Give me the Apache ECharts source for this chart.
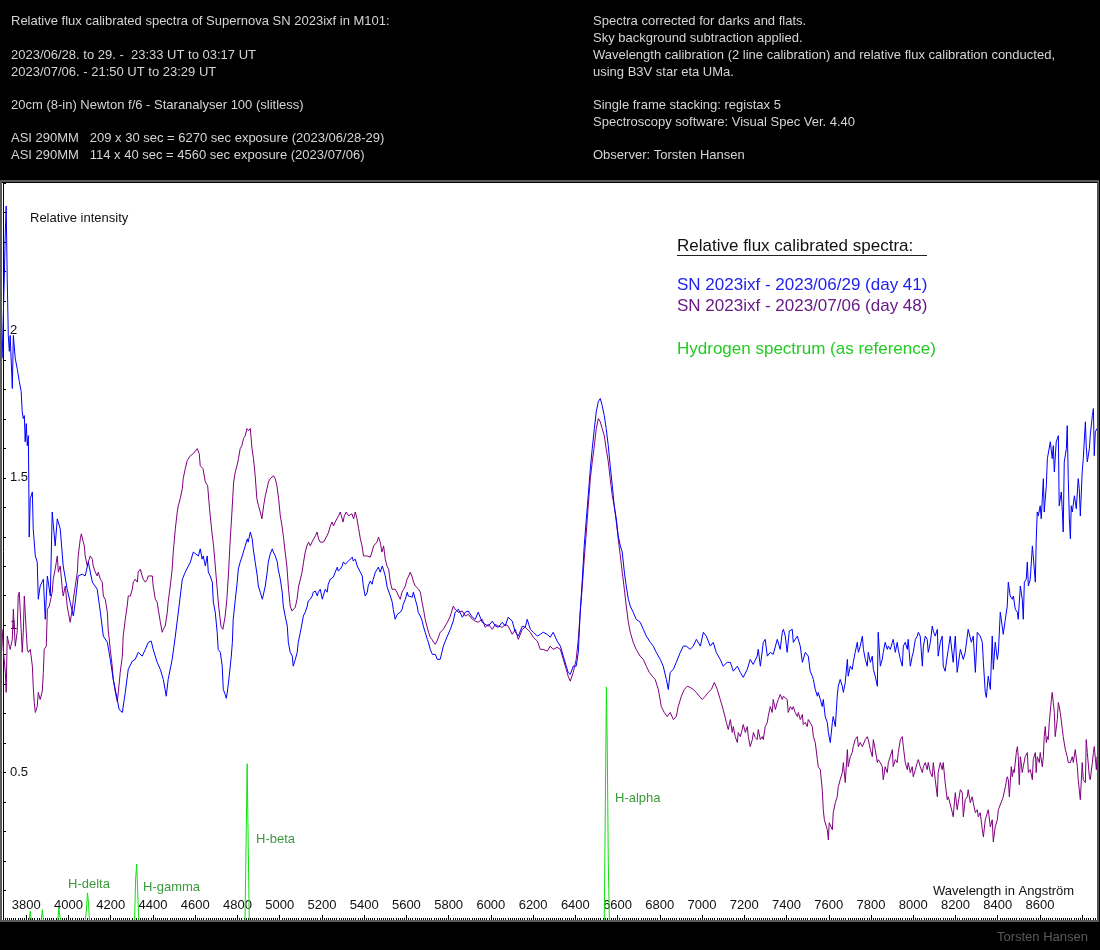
<!DOCTYPE html>
<html>
<head>
<meta charset="utf-8">
<title>SN 2023ixf relative flux calibrated spectra</title>
<script src="https://cdn.jsdelivr.net/npm/echarts@6/dist/echarts.min.js"></script>
<style>
html, body { margin: 0; padding: 0; background: #000; }
#chart { width: 1100px; height: 950px; }
</style>
</head>
<body>
<div id="chart"></div>
<script>
// wavelength (Angstrom), relative intensity
const day41 = [
[3686,1.905],[3691,2.041],[3696,2.177],[3701,2.337],[3705,2.422],[3710,2.177],[3715,1.983],[3720,1.929],[3724,1.983],[3734,1.803],[3739,1.983],[3748,1.905],[3757,1.871],[3767,1.827],[3776,1.793],[3781,1.724],[3786,1.701],[3791,1.711],[3795,1.622],[3800,1.684],[3805,1.609],[3810,1.643],[3812,1.497],[3814,1.299],[3819,1.429],[3829,1.452],[3833,1.327],[3843,1.235],[3852,1.214],[3857,1.088],[3866,1.133],[3881,1.156],[3890,1.020],[3900,1.167],[3914,1.099],[3923,1.384],[3937,1.269],[3947,1.361],[3961,1.327],[3975,1.201],[3994,1.122],[4008,1.078],[4023,1.031],[4032,1.078],[4046,1.167],[4065,1.173],[4079,1.167],[4094,1.214],[4113,1.146],[4136,1.122],[4151,1.044],[4165,0.963],[4184,0.942],[4198,0.884],[4212,0.816],[4231,0.748],[4240,0.714],[4255,0.704],[4269,0.772],[4283,0.850],[4302,0.878],[4316,0.884],[4330,0.908],[4349,0.895],[4364,0.918],[4378,0.942],[4392,0.946],[4401,0.918],[4420,0.874],[4435,0.850],[4449,0.816],[4463,0.759],[4472,0.816],[4491,0.884],[4506,0.963],[4520,1.044],[4539,1.156],[4553,1.180],[4577,1.214],[4591,1.248],[4615,1.235],
[4624,1.259],[4633,1.224],[4638,1.235],[4648,1.201],[4657,1.235],[4662,1.180],[4671,1.167],[4681,1.146],[4686,1.078],[4695,1.044],[4704,0.976],[4709,0.918],[4719,0.908],[4728,0.861],[4733,0.782],[4742,0.765],[4747,0.752],[4752,0.772],[4761,0.827],[4771,0.895],[4776,0.942],[4780,1.020],[4790,1.088],[4799,1.146],[4804,1.190],[4813,1.214],[4823,1.235],[4828,1.248],[4837,1.269],[4847,1.293],[4851,1.282],[4861,1.316],[4870,1.293],[4875,1.259],[4884,1.214],[4894,1.167],[4899,1.133],[4908,1.112],[4918,1.088],[4922,1.088],[4932,1.133],[4941,1.180],[4946,1.214],[4955,1.241],[4965,1.259],[4970,1.248],[4979,1.235],[4989,1.214],[4993,1.190],[5003,1.156],[5012,1.112],[5017,1.065],[5026,1.031],[5036,0.997],[5041,0.942],[5050,0.908],[5060,0.895],[5064,0.861],[5074,0.884],[5083,0.908],[5088,0.942],[5098,0.976],[5107,1.010],[5112,1.031],[5121,1.044],[5131,1.065],[5135,1.082],[5145,1.088],[5154,1.099],[5159,1.112],[5169,1.116],[5178,1.099],[5183,1.112],[5192,1.122],[5202,1.088],[5206,1.099],[5216,1.122],[5225,1.112],[5230,1.139],[5240,1.156],[5249,1.150],[5254,1.163],[5263,1.180],[5273,1.197],[5277,1.184],[5287,1.190],[5296,1.201],[5301,1.214],[5311,1.207],[5320,1.214],[5325,1.218],[5334,1.224],[5344,1.231],[5348,1.218],[5358,1.224],[5367,1.201],[5372,1.201],[5382,1.180],[5391,1.167],[5396,1.133],[5405,1.099],[5415,1.112],[5419,1.133],[5429,1.150],[5438,1.139],[5443,1.156],[5453,1.180],[5462,1.190],[5467,1.197],[5476,1.180],[5486,1.201],[5491,1.190],[5500,1.167],[5509,1.129],[5514,1.129],[5524,1.099],[5533,1.078],[5538,1.054],[5547,1.020],[5557,1.037],[5561,1.037],[5571,1.044],[5580,1.054],[5585,1.071],[5595,1.088],[5604,1.112],[5609,1.099],[5618,1.105],[5628,1.095],[5633,1.112],[5642,1.088],[5651,1.065],[5656,1.044],[5666,1.031],[5675,1.014],[5680,0.997],[5689,0.976],[5699,0.952],[5704,0.942],[5713,0.918],[5723,0.901],[5727,0.895],[5737,0.901],[5746,0.884],
[5760,0.884],[5775,0.929],[5794,0.963],[5808,0.986],[5822,1.014],[5831,1.044],[5846,1.054],[5865,1.027],[5879,1.044],[5893,1.048],[5912,1.027],[5926,1.020],[5940,1.044],[5959,1.010],[5973,1.003],[5988,0.997],[6007,1.014],[6021,0.997],[6035,0.993],[6054,1.010],[6068,0.997],[6082,1.027],[6101,1.014],[6116,0.976],[6130,0.963],[6149,0.997],[6163,0.993],[6172,1.020],[6187,0.986],[6201,0.976],[6220,0.963],[6234,0.969],[6248,0.976],[6267,0.969],[6281,0.959],[6295,0.976],[6314,0.946],
[6329,0.929],[6343,0.895],[6357,0.861],[6366,0.840],[6376,0.833],[6390,0.861],[6404,0.861],[6414,0.908],[6423,1.044],[6433,1.156],[6442,1.269],[6452,1.361],[6461,1.439],[6471,1.531],[6480,1.599],[6490,1.667],[6499,1.724],[6509,1.759],[6518,1.769],[6527,1.745],[6537,1.711],[6546,1.667],[6556,1.609],[6565,1.541],[6575,1.473],[6584,1.405],[6594,1.361],[6603,1.303],[6613,1.269],[6622,1.248],[6632,1.180],[6641,1.133],[6651,1.088],[6660,1.065],[6674,1.044],[6688,1.020],[6707,1.010],[6722,0.986],[6736,0.963],[6755,0.942],[6769,0.929],[6783,0.908],[6802,0.884],[6816,0.861],[6831,0.816],[6840,0.782],[6849,0.840],[6864,0.850],[6878,0.874],[6897,0.908],[6911,0.929],[6925,0.929],[6944,0.918],[6958,0.929],[6973,0.952],[6992,0.929],[7006,0.976],[7020,0.963],[7039,0.929],[7053,0.942],[7067,0.908],[7086,0.884],[7100,0.861],[7119,0.874],
[7134,0.874],[7148,0.844],[7167,0.861],[7181,0.840],[7195,0.823],[7214,0.850],[7228,0.884],[7242,0.867],[7261,0.895],[7266,0.918],[7276,0.861],[7290,0.942],[7299,0.952],[7309,0.895],[7323,0.908],[7337,0.901],[7356,0.952],[7370,0.918],[7380,0.976],[7385,0.986],[7394,0.963],[7403,0.908],[7413,0.980],[7427,0.986],[7432,0.942],[7451,0.963],[7456,0.969],[7465,0.929],[7475,0.874],[7489,0.908],[7503,0.895],[7512,0.844],[7522,0.827],[7527,0.816],[7536,0.782],[7546,0.759],[7550,0.772],[7560,0.748],[7569,0.724],[7574,0.748],[7583,0.690],[7593,0.670],[7598,0.636],[7607,0.602],[7617,0.670],[7621,0.690],[7631,0.656],[7640,0.759],[7645,0.793],[7654,0.816],[7664,0.793],[7669,0.772],[7678,0.806],[7688,0.884],[7692,0.827],[7702,0.861],[7711,0.850],[7716,0.874],[7725,0.908],[7735,0.942],[7740,0.908],[7749,0.929],[7759,0.963],[7764,0.918],[7773,0.884],[7782,0.861],[7787,0.908],[7797,0.874],[7806,0.895],[7811,0.850],[7820,0.827],[7830,0.793],[7834,0.976],[7844,0.861],[7853,0.884],[7858,0.908],[7867,0.942],[7877,0.918],[7882,0.929],[7891,0.918],[7901,0.942],[7905,0.952],[7915,0.908],[7924,0.942],[7929,0.918],[7939,0.884],[7948,0.861],[7953,0.929],[7962,0.942],[7972,0.918],[7976,0.952],[7986,0.861],[7995,0.895],[8000,0.908],[8010,0.952],[8019,0.963],[8024,0.976],[8033,0.963],[8043,0.861],[8048,0.929],[8057,0.963],[8066,0.952],[8071,0.908],[8081,0.942],[8090,0.997],[8095,0.980],[8104,0.963],[8114,0.986],[8118,0.895],[8128,0.942],[8137,0.963],[8142,0.861],[8151,0.844],[8161,0.895],[8166,0.918],
[8175,0.963],[8189,0.874],[8199,0.963],[8208,0.840],[8223,0.918],[8237,0.884],[8246,0.908],[8260,0.986],[8275,0.942],[8284,0.963],[8294,0.840],[8303,0.976],[8317,0.963],[8327,0.942],[8332,0.874],[8341,0.772],[8346,0.755],[8355,0.827],[8365,0.782],[8374,0.963],[8379,0.850],[8388,0.942],[8398,0.884],[8403,0.908],[8412,1.044],[8421,0.997],[8426,0.969],[8436,1.020],[8445,1.065],[8450,1.146],[8459,1.099],[8469,1.088],[8474,1.099],[8483,1.054],[8493,1.044],[8497,1.020],[8507,1.133],[8516,1.088],[8521,1.020],[8526,1.146],[8535,1.156],[8540,1.214],[8545,1.133],[8554,1.156],[8564,1.269],[8568,1.235],[8578,1.146],[8582,1.282],[8587,1.384],[8592,1.371],[8601,1.405],[8606,1.361],[8611,1.429],[8616,1.497],[8620,1.384],[8630,1.473],[8635,1.565],[8639,1.565],[8649,1.622],[8658,1.565],[8663,1.609],[8668,1.520],[8677,1.622],[8687,1.643],[8691,1.405],[8701,1.452],[8706,1.384],[8710,1.316],[8715,1.554],[8725,1.599],[8729,1.677],[8734,1.497],[8739,1.361],[8744,1.293],[8748,1.405],[8753,1.384],[8763,1.439],[8772,1.395],[8781,1.497],[8786,1.463],[8791,1.371],[8800,1.520],[8805,1.565],[8815,1.690],[8819,1.609],[8824,1.554],[8834,1.599],[8838,1.643],[8848,1.711],[8853,1.735],[8857,1.575],[8862,1.656],[8870,1.667]
];

const day48 = [
[3686,0.986],[3691,0.918],[3701,0.840],[3705,0.772],[3710,0.963],[3720,0.929],[3724,0.918],[3734,0.952],[3739,1.054],[3748,0.929],[3757,0.976],[3762,1.099],[3767,1.112],[3776,0.986],[3781,0.908],[3786,0.976],[3791,1.099],[3795,1.044],[3805,0.918],[3810,0.908],[3819,0.918],[3829,0.861],[3833,0.793],[3838,0.738],[3843,0.704],[3852,0.724],[3857,0.772],[3866,0.748],[3876,0.776],[3881,0.840],[3885,0.918],[3895,0.929],[3900,1.054],[3909,1.065],[3923,1.112],[3928,1.156],[3937,1.190],[3947,1.235],[3952,1.180],[3961,1.201],[3971,1.122],[3975,1.099],[3985,1.133],[3994,1.065],[3999,1.044],[4008,1.010],[4018,1.054],[4023,1.088],[4032,1.133],[4042,1.180],[4046,1.235],[4056,1.293],[4061,1.310],[4070,1.282],[4075,1.269],[4079,1.235],[4089,1.201],[4094,1.214],[4103,1.235],[4113,1.224],[4117,1.201],[4127,1.180],[4136,1.167],[4141,1.180],[4151,1.156],[4160,1.146],[4165,1.099],[4174,1.088],[4184,1.044],[4188,0.986],[4198,0.918],[4207,0.861],[4212,0.816],[4222,0.772],[4231,0.741],[4236,0.772],[4245,0.840],[4255,0.895],[4259,0.963],[4269,1.020],[4278,1.065],[4283,1.099],[4293,1.099],[4302,1.122],[4307,1.146],[4316,1.156],[4326,1.146],[4330,1.180],[4340,1.190],[4349,1.167],[4354,1.156],[4364,1.146],[4373,1.156],[4378,1.167],[4387,1.173],[4397,1.167],[4401,1.133],[4411,1.088],[4420,1.078],[4425,1.054],[4435,1.010],[4444,0.976],[4449,0.986],[4458,0.997],[4468,1.044],[4472,1.078],[4482,1.133],[4491,1.190],[4496,1.248],[4506,1.327],[4515,1.384],[4520,1.405],[4529,1.429],[4539,1.463],[4543,1.497],[4553,1.531],[4562,1.558],[4577,1.575],[4591,1.582],[4610,1.599],[4619,1.582],
[4624,1.541],[4637,1.531],[4648,1.486],[4659,1.473],[4668,1.395],[4679,1.316],[4687,1.269],[4695,1.201],[4703,1.133],[4711,1.065],[4722,0.997],[4731,0.986],[4742,1.031],[4750,1.088],[4758,1.180],[4766,1.293],[4774,1.384],[4782,1.486],[4790,1.520],[4798,1.541],[4805,1.565],[4813,1.599],[4821,1.609],[4829,1.633],[4837,1.643],[4845,1.667],[4853,1.660],[4861,1.667],[4869,1.599],[4876,1.565],[4884,1.507],[4892,1.429],[4900,1.405],[4908,1.384],[4916,1.361],[4924,1.405],[4932,1.439],[4940,1.463],[4947,1.486],[4955,1.497],[4963,1.503],[4971,1.507],[4979,1.497],[4987,1.473],[4995,1.429],[5003,1.371],[5011,1.337],[5019,1.293],[5026,1.248],[5034,1.201],[5042,1.122],[5050,1.065],[5058,1.048],[5066,1.054],[5074,1.061],[5082,1.088],[5090,1.133],[5098,1.156],[5106,1.180],[5113,1.214],[5121,1.248],[5129,1.269],[5137,1.282],[5145,1.269],[5153,1.282],[5161,1.293],[5169,1.303],[5177,1.316],[5184,1.293],[5192,1.282],[5200,1.286],[5208,1.282],[5216,1.282],[5224,1.303],[5232,1.316],[5240,1.337],[5248,1.350],[5255,1.337],[5263,1.350],[5271,1.361],[5279,1.371],[5287,1.384],[5295,1.384],[5300,1.350],[5306,1.371],[5315,1.384],[5326,1.371],[5334,1.367],[5342,1.378],[5350,1.361],[5358,1.384],[5366,1.361],[5374,1.327],[5382,1.293],[5390,1.269],[5397,1.235],[5405,1.231],[5413,1.235],[5421,1.241],[5429,1.231],[5437,1.248],[5445,1.269],[5453,1.265],[5461,1.282],[5468,1.299],[5476,1.282],[5484,1.248],[5492,1.269],[5500,1.224],[5508,1.201],[5516,1.190],[5524,1.146],[5532,1.122],[5539,1.116],[5547,1.122],[5555,1.112],[5563,1.099],[5571,1.088],[5579,1.112],[5587,1.122],[5595,1.133],[5603,1.156],[5611,1.167],[5618,1.180],[5626,1.167],[5634,1.146],[5642,1.133],[5650,1.139],[5658,1.122],[5666,1.112],[5674,1.078],[5681,1.054],[5689,1.020],[5697,0.997],[5705,0.976],[5713,0.959],[5721,0.952],[5729,0.942],[5737,0.935],[5745,0.946],[5753,0.942],
[5760,0.976],[5775,0.986],[5794,1.010],[5808,1.031],[5822,1.065],[5831,1.054],[5846,1.044],[5865,1.048],[5879,1.031],[5893,1.037],[5912,1.020],[5926,1.014],[5940,1.010],[5959,1.020],[5973,0.993],[5988,1.003],[6007,0.986],[6021,1.003],[6035,0.997],[6054,0.993],[6068,1.003],[6082,0.997],[6101,0.969],[6116,0.986],[6130,0.952],[6149,0.986],[6163,0.993],[6172,0.997],[6187,0.976],[6201,0.959],[6220,0.946],[6234,0.918],[6248,0.918],[6267,0.912],[6281,0.929],[6295,0.918],[6314,0.925],[6329,0.918],[6343,0.884],[6357,0.850],[6366,0.827],[6376,0.810],[6390,0.840],[6404,0.884],[6414,0.952],[6423,1.044],[6433,1.133],[6442,1.224],[6452,1.316],[6461,1.405],[6471,1.497],[6480,1.554],[6490,1.609],[6499,1.667],[6509,1.701],[6518,1.690],[6527,1.667],[6537,1.643],[6546,1.599],[6556,1.554],[6565,1.497],[6575,1.439],[6584,1.405],[6594,1.350],[6603,1.293],[6613,1.235],[6622,1.180],[6632,1.122],[6641,1.065],[6651,1.010],[6660,0.976],[6674,0.942],[6688,0.918],[6707,0.895],[6722,0.884],[6736,0.861],[6750,0.840],[6764,0.827],[6778,0.816],[6793,0.782],[6807,0.724],[6821,0.704],[6835,0.690],[6849,0.704],[6864,0.680],[6878,0.690],[6887,0.724],[6902,0.759],[6916,0.782],[6930,0.793],[6944,0.789],[6958,0.782],[6973,0.772],[6987,0.759],[7001,0.748],[7015,0.759],[7029,0.772],[7044,0.782],[7058,0.806],[7072,0.782],[7086,0.748],[7100,0.714],[7115,0.670],[7124,0.646],
[7134,0.680],[7143,0.636],[7148,0.656],[7157,0.622],[7167,0.602],[7171,0.636],[7181,0.622],[7190,0.646],[7195,0.663],[7205,0.636],[7214,0.656],[7219,0.622],[7228,0.588],[7238,0.612],[7243,0.636],[7252,0.619],[7261,0.612],[7266,0.646],[7276,0.612],[7285,0.622],[7290,0.612],[7299,0.656],[7309,0.670],[7313,0.690],[7323,0.724],[7332,0.704],[7337,0.748],[7347,0.714],[7356,0.738],[7361,0.748],[7370,0.765],[7380,0.748],[7385,0.759],[7394,0.765],[7403,0.748],[7408,0.704],[7418,0.724],[7427,0.714],[7432,0.724],[7441,0.704],[7451,0.690],[7456,0.704],[7465,0.680],[7475,0.697],[7479,0.663],[7489,0.670],[7498,0.656],[7503,0.680],[7512,0.670],[7522,0.656],[7527,0.622],[7536,0.602],[7546,0.544],[7550,0.520],[7560,0.510],[7569,0.442],[7574,0.374],[7579,0.340],[7593,0.306],[7598,0.272],[7602,0.330],[7617,0.306],[7621,0.364],[7631,0.398],[7640,0.418],[7645,0.452],[7654,0.476],[7664,0.500],[7669,0.534],[7678,0.466],[7688,0.578],[7692,0.520],[7702,0.554],[7711,0.568],[7716,0.588],[7725,0.612],[7735,0.622],[7740,0.588],[7749,0.602],[7759,0.588],[7764,0.588],[7773,0.612],[7782,0.622],[7787,0.612],[7797,0.578],[7806,0.554],[7811,0.612],[7820,0.578],[7830,0.534],[7834,0.544],[7844,0.534],[7853,0.520],[7858,0.476],[7867,0.520],[7877,0.500],[7882,0.534],[7891,0.554],[7901,0.578],[7905,0.520],[7915,0.544],[7924,0.534],[7929,0.568],[7939,0.612],[7948,0.622],[7953,0.588],[7962,0.534],[7972,0.510],[7976,0.534],[7986,0.500],[7995,0.520],[8000,0.486],[8010,0.510],[8019,0.534],[8024,0.544],[8033,0.520],[8043,0.500],[8048,0.520],[8057,0.534],[8066,0.510],[8071,0.534],[8081,0.500],[8090,0.486],[8095,0.534],[8104,0.476],[8114,0.418],[8118,0.500],[8128,0.534],[8137,0.510],[8142,0.534],[8151,0.466],[8161,0.408],[8166,0.418],
[8175,0.418],[8185,0.364],[8189,0.350],[8199,0.432],[8208,0.374],[8213,0.398],[8223,0.442],[8232,0.432],[8237,0.350],[8246,0.408],[8256,0.418],[8260,0.442],[8270,0.398],[8279,0.418],[8284,0.398],[8294,0.364],[8303,0.374],[8308,0.350],[8317,0.364],[8327,0.306],[8332,0.282],[8341,0.340],[8350,0.340],[8355,0.374],[8365,0.316],[8374,0.340],[8379,0.265],[8388,0.316],[8398,0.340],[8403,0.374],[8412,0.374],[8421,0.408],[8426,0.418],[8436,0.452],[8445,0.486],[8450,0.476],[8455,0.418],[8464,0.520],[8469,0.486],[8474,0.510],[8478,0.500],[8488,0.568],[8493,0.588],[8497,0.554],[8502,0.459],[8507,0.554],[8511,0.534],[8516,0.500],[8521,0.520],[8530,0.554],[8540,0.568],[8545,0.500],[8549,0.500],[8554,0.510],[8564,0.476],[8568,0.544],[8578,0.568],[8582,0.500],[8587,0.554],[8597,0.534],[8601,0.568],[8611,0.520],[8616,0.554],[8620,0.622],[8625,0.656],[8630,0.602],[8635,0.622],[8639,0.612],[8644,0.670],[8654,0.748],[8658,0.772],[8663,0.738],[8668,0.704],[8672,0.622],[8682,0.680],[8687,0.738],[8696,0.704],[8706,0.646],[8710,0.622],[8720,0.578],[8729,0.554],[8734,0.534],[8744,0.534],[8753,0.554],[8758,0.534],[8767,0.578],[8777,0.520],[8781,0.476],[8791,0.408],[8800,0.534],[8805,0.476],[8815,0.466],[8819,0.612],[8824,0.568],[8834,0.486],[8838,0.476],[8848,0.534],[8853,0.568],[8857,0.588],[8867,0.510],[8870,0.554]
];

// hydrogen reference spectrum, one short profile per Balmer line
const hydrogen = [
[[3814,0],[3819,0.03],[3824,0]],
[[3871,0],[3876,0.035],[3881,0]],
[[3950,0],[3954,0.04],[3958,0.02],[3962,0]],
[[4080,0],[4085,0.034],[4090,0.092],[4094,0.065],[4099,0]],
[[4313,0],[4318,0.14],[4323,0.19],[4328,0.09],[4333,0]],
[[4836,0],[4841,0.26],[4846,0.53],[4851,0.26],[4856,0]],
[[6537,0],[6542,0.39],[6547,0.79],[6551,0.59],[6556,0.2],[6561,0]]
];

const hLabels = [
{ text: 'H-delta', x: 68, y: 884 },
{ text: 'H-gamma', x: 143, y: 887 },
{ text: 'H-beta', x: 256, y: 839 },
{ text: 'H-alpha', x: 615, y: 798 }
];

const headerLeft = [
['Relative flux calibrated spectra of Supernova SN 2023ixf in M101:', 21],
['2023/06/28. to 29. -  23:33 UT to 03:17 UT', 55],
['2023/07/06. - 21:50 UT to 23:29 UT', 72],
['20cm (8-in) Newton f/6 - Staranalyser 100 (slitless)', 105],
['ASI 290MM   209 x 30 sec = 6270 sec exposure (2023/06/28-29)', 138],
['ASI 290MM   114 x 40 sec = 4560 sec exposure (2023/07/06)', 155]
];

const headerRight = [
['Spectra corrected for darks and flats.', 21],
['Sky background subtraction applied.', 38],
['Wavelength calibration (2 line calibration) and relative flux calibration conducted,', 55],
['using B3V star eta UMa.', 72],
['Single frame stacking: registax 5', 105],
['Spectroscopy software: Visual Spec Ver. 4.40', 122],
['Observer: Torsten Hansen', 155]
];

const FONT = "'Liberation Sans', Arial, sans-serif";

function txt(text, x, y, color, size, align) {
    return {
        type: 'text', x: x, y: y, z: 100,
        style: {
            text: text, fill: color, font: size + 'px ' + FONT,
            textAlign: align || 'left', textVerticalAlign: 'middle'
        }
    };
}

let graphics = [];
headerLeft.forEach(item => graphics.push(txt(item[0], 11, item[1], '#d4d4d4', 13)));
headerRight.forEach(item => graphics.push(txt(item[0], 593, item[1], '#d4d4d4', 13)));
hLabels.forEach(item => graphics.push(txt(item.text, item.x, item.y, '#3a9a3a', 13)));
graphics.push(txt('Relative intensity', 30, 218, '#111', 13));
graphics.push(txt('Wavelength in Angström', 933, 891, '#111', 13));
graphics.push(txt('Torsten Hansen', 1088, 937, '#5a5a5a', 13, 'right'));
graphics.push(txt('Relative flux calibrated spectra:', 677, 246, '#111', 17));
graphics.push({
    type: 'line', z: 100,
    shape: { x1: 677, y1: 255.5, x2: 927, y2: 255.5 },
    style: { stroke: '#222', lineWidth: 1 }
});
graphics.push(txt('SN 2023ixf - 2023/06/29 (day 41)', 677, 285, '#2222ee', 17));
graphics.push(txt('SN 2023ixf - 2023/07/06 (day 48)', 677, 306, '#6a1a86', 17));
graphics.push(txt('Hydrogen spectrum (as reference)', 677, 349, '#22cc22', 17));
graphics.push({
    type: 'rect', z: 100,
    shape: { x: 1, y: 181, width: 1097, height: 740 },
    style: { fill: 'none', stroke: '#5a5a5a', lineWidth: 2 }
});
graphics.push({
    type: 'line', z: 101,
    shape: { x1: 1097.5, y1: 182, x2: 1097.5, y2: 920 },
    style: { stroke: '#a02818', lineWidth: 1 }
});

let series = [
    {
        name: 'day 41', type: 'line', data: day41, showSymbol: false,
        lineStyle: { color: '#0000ff', width: 1 }, z: 3
    },
    {
        name: 'day 48', type: 'line', data: day48, showSymbol: false,
        lineStyle: { color: '#800080', width: 1 }, z: 2
    }
];
hydrogen.forEach(line => {
    series.push({
        type: 'line', data: line, showSymbol: false,
        lineStyle: { color: '#10e010', width: 1 }, z: 4
    });
});

let option = {
    backgroundColor: '#000',
    animation: false,
    grid: {
        left: -16, right: 3, top: 183, bottom: 30,
        outerBoundsMode: 'none', containLabel: false,
        show: true, backgroundColor: '#fff', borderWidth: 0
    },
    xAxis: {
        type: 'value', min: 3600, max: 8870, interval: 200,
        axisLine: { show: true, lineStyle: { color: '#000', width: 1 } },
        axisTick: { show: true, inside: true, length: 5, lineStyle: { color: '#000' } },
        minorTick: { show: true, splitNumber: 20, length: 2, lineStyle: { color: '#000' } },
        axisLabel: {
            inside: true, margin: 8, color: '#111', fontSize: 13, fontFamily: FONT,
            formatter: v => (v % 200 === 0 && v >= 3800 && v <= 8600 ? String(v) : '')
        },
        splitLine: { show: false }
    },
    yAxis: {
        type: 'value', min: 0, max: 2.5, interval: 0.1, offset: -19,
        axisLine: { show: true, lineStyle: { color: '#000', width: 1 } },
        axisTick: { show: true, inside: true, length: 3, lineStyle: { color: '#000' } },
        axisLabel: {
            inside: true, margin: 7, color: '#111', fontSize: 13, fontFamily: FONT,
            formatter: v => {
                let t = Math.round(v * 10);
                return (t % 5 === 0 && t > 0 && t < 25) ? String(t / 10) : '';
            }
        },
        splitLine: { show: false }
    },
    series: series,
    graphic: graphics
};

let myChart = echarts.init(document.getElementById('chart'));
myChart.setOption(option);
</script>
</body>
</html>
